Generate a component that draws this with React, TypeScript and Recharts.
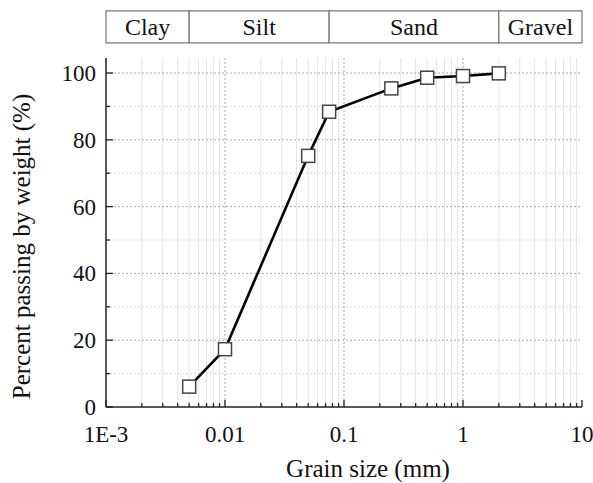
import React from 'react';
import {
  LineChart, Line, XAxis, YAxis, CartesianGrid, ReferenceArea, Label,
} from 'recharts';

const grainSize = [0.005, 0.01, 0.05, 0.075, 0.25, 0.5, 1, 2];
const percentPassing = [6.1, 17.3, 75.2, 88.4, 95.4, 98.6, 99.1, 99.9];

const majorXTicks = [0.001, 0.01, 0.1, 1, 10];
const majorXLabels = ['1E-3', '0.01', '0.1', '1', '10'];
const minorXTicks = [
  0.002, 0.003, 0.004, 0.005, 0.006, 0.007, 0.008, 0.009,
  0.02, 0.03, 0.04, 0.05, 0.06, 0.07, 0.08, 0.09,
  0.2, 0.3, 0.4, 0.5, 0.6, 0.7, 0.8, 0.9,
  2, 3, 4, 5, 6, 7, 8, 9,
];
const majorYTicks = [0, 20, 40, 60, 80, 100];
const minorYTicks = [10, 30, 50, 70, 90];

const soilNames = ['Clay', 'Silt', 'Sand', 'Gravel'];
const soilBounds = [0.001, 0.005, 0.075, 2, 10];
const bandBottom = 109;
const bandTop = 118.6;

const allXTicks = [...majorXTicks, ...minorXTicks].sort((a, b) => a - b);
const allYTicks = [...majorYTicks, ...minorYTicks].sort((a, b) => a - b);

const data = grainSize.map((g, i) => ({ g, p: percentPassing[i] }));

const FONT = "'Liberation Serif', 'Times New Roman', serif";
const TXT = { fontFamily: FONT };
const AXIS = '#222';

const xLabelFor = (v: number) => {
  const i = majorXTicks.findIndex((m) => Math.abs(m - v) < v * 1e-6);
  return i >= 0 ? majorXLabels[i] : null;
};

const BottomTick = (props: any) => {
  const { x, y, payload } = props;
  const lab = xLabelFor(payload.value);
  const len = lab !== null ? 7 : 4;
  return (
    <g>
      <line x1={x} x2={x} y1={y} y2={y - len} stroke={AXIS} strokeWidth={1.3} />
      {lab !== null && (
        <text x={x} y={y + 35} textAnchor="middle" style={TXT} fontSize={23} fill="#111">
          {lab}
        </text>
      )}
    </g>
  );
};

const TopTick = (props: any) => {
  const { x, y, payload } = props;
  const lab = xLabelFor(payload.value);
  const len = lab !== null ? 7 : 4;
  return <line x1={x} x2={x} y1={y} y2={y + len} stroke={AXIS} strokeWidth={1.3} />;
};

const LeftTick = (props: any) => {
  const { x, y, payload } = props;
  const major = payload.value % 20 === 0;
  const len = major ? 7 : 4;
  return (
    <g>
      <line x1={x} x2={x + len} y1={y} y2={y} stroke={AXIS} strokeWidth={1.3} />
      {major && (
        <text x={x - 10} y={y + 8} textAnchor="end" style={TXT} fontSize={23} fill="#111">
          {payload.value}
        </text>
      )}
    </g>
  );
};

const RightTick = (props: any) => {
  const { x, y, payload } = props;
  const major = payload.value % 20 === 0;
  const len = major ? 7 : 4;
  return <line x1={x} x2={x - len} y1={y} y2={y} stroke={AXIS} strokeWidth={1.3} />;
};

const SquareDot = (props: any) => {
  const { cx, cy, index } = props;
  if (cx == null || cy == null) return <g key={`d${index}`} />;
  const s = 13;
  return (
    <rect
      key={`d${index}`}
      x={cx - s / 2}
      y={cy - s / 2}
      width={s}
      height={s}
      fill="#fff"
      stroke="#444"
      strokeWidth={1.5}
    />
  );
};

const XTitle = (props: any) => {
  const vb = props.viewBox || { x: 106, y: 407, width: 476, height: 76 };
  return (
    <text
      x={vb.x + vb.width / 2 + 24}
      y={vb.y + 70}
      textAnchor="middle"
      style={TXT}
      fontSize={25}
      fill="#111"
    >
      Grain size (mm)
    </text>
  );
};

const YTitle = (props: any) => {
  const vb = props.viewBox || { x: 0, y: 58, width: 106, height: 349 };
  const cx = vb.x + 30;
  const cy = vb.y + vb.height / 2 + 14;
  return (
    <text
      x={cx}
      y={cy}
      transform={`rotate(-90, ${cx}, ${cy})`}
      textAnchor="middle"
      style={TXT}
      fontSize={25}
      fill="#111"
    >
      Percent passing by weight (%)
    </text>
  );
};

export default function App() {
  return (
    <div style={{ position: 'absolute', left: 0, top: 0, width: 593, height: 483, background: '#fff', fontFamily: FONT }}>
      <LineChart
        width={593}
        height={483}
        data={data}
        margin={{ top: 58, right: 11, bottom: 0, left: 0 }}
      >
        <CartesianGrid
          horizontal={false}
          verticalValues={minorXTicks}
          stroke="#e4e4e4"
          strokeWidth={1}
        />
        <CartesianGrid
          vertical={false}
          horizontalValues={minorYTicks}
          stroke="#d8d8d8"
          strokeDasharray="2 2"
          strokeWidth={1}
        />
        <CartesianGrid
          verticalValues={[0.01, 0.1, 1]}
          horizontalValues={[20, 40, 60, 80, 100]}
          stroke="#a8a8a8"
          strokeDasharray="2 2"
          strokeWidth={1}
        />
        <XAxis
          dataKey="g"
          type="number"
          scale="log"
          domain={[0.001, 10]}
          allowDataOverflow
          ticks={allXTicks}
          interval={0}
          tickSize={0}
          tickMargin={0}
          tickLine={false}
          tick={<BottomTick />}
          height={76}
          axisLine={{ stroke: AXIS, strokeWidth: 1.5 }}
        >
          <Label content={<XTitle />} />
        </XAxis>
        <XAxis
          xAxisId="top"
          orientation="top"
          dataKey="g"
          type="number"
          scale="log"
          domain={[0.001, 10]}
          allowDataOverflow
          ticks={allXTicks}
          interval={0}
          tickSize={0}
          tickMargin={0}
          tickLine={false}
          tick={<TopTick />}
          height={0}
          axisLine={{ stroke: AXIS, strokeWidth: 1.5 }}
        />
        <YAxis
          type="number"
          domain={[0, 104.5]}
          allowDataOverflow
          ticks={allYTicks}
          interval={0}
          tickSize={0}
          tickMargin={0}
          tickLine={false}
          tick={<LeftTick />}
          width={106}
          axisLine={{ stroke: AXIS, strokeWidth: 1.5 }}
        >
          <Label content={<YTitle />} />
        </YAxis>
        <YAxis
          yAxisId="right"
          orientation="right"
          type="number"
          domain={[0, 104.5]}
          allowDataOverflow
          ticks={allYTicks}
          interval={0}
          tickSize={0}
          tickMargin={0}
          tickLine={false}
          tick={<RightTick />}
          width={0}
          axisLine={{ stroke: AXIS, strokeWidth: 1.5 }}
        />
        {soilNames.map((name, i) => (
          <ReferenceArea
            key={name}
            x1={soilBounds[i]}
            x2={soilBounds[i + 1]}
            y1={bandBottom}
            y2={bandTop}
            ifOverflow="visible"
            fill="#fff"
            fillOpacity={1}
            stroke="#777"
            strokeWidth={1.2}
            label={{ value: name, position: 'center', fontSize: 24, fontFamily: FONT, fill: '#111' }}
          />
        ))}
        <Line
          type="linear"
          dataKey="p"
          stroke="#000"
          strokeWidth={2.6}
          dot={SquareDot}
          activeDot={false}
          isAnimationActive={false}
        />
      </LineChart>
    </div>
  );
}
